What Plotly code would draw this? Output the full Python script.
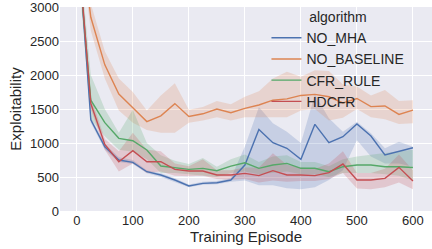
import plotly.graph_objects as go

episodes = [0, 25, 50, 75, 100, 125, 150, 175, 200, 225, 250, 275, 300,
            325, 350, 375, 400, 425, 450, 475, 500, 525, 550, 575, 600]

no_mha = [4200, 1340, 945, 750, 716, 578, 529, 456, 368, 407, 416, 456, 676,
          1200, 1005, 922, 760, 1275, 1005, 1093, 1280, 1103, 824, 872, 931]
no_mha_lo = [4000, 1300, 900, 720, 690, 555, 500, 430, 350, 385, 395, 430, 450,
             380, 380, 335, 320, 350, 456, 600, 1040, 800, 700, 700, 650]
no_mha_hi = [4400, 1380, 990, 790, 750, 600, 555, 480, 390, 430, 440, 480, 950,
             1530, 1290, 1166, 1000, 1715, 1363, 1166, 1313, 1142, 922, 1020, 946]

no_baseline = [4500, 2850, 2150, 1720, 1520, 1315, 1400, 1580, 1390, 1430, 1500, 1446, 1510,
               1560, 1630, 1650, 1700, 1715, 1680, 1590, 1655, 1535, 1545, 1420, 1485]
no_baseline_lo = [4300, 2650, 1950, 1480, 1300, 1190, 1150, 1150, 1300, 1330, 1380, 1330, 1380,
                  1380, 1370, 1380, 1480, 1500, 1330, 1370, 1500, 1380, 1350, 1280, 1290]
no_baseline_hi = [4700, 3050, 2350, 1950, 1750, 1480, 1700, 1880, 1490, 1530, 1620, 1570, 1680,
                  1760, 1950, 2050, 1975, 2070, 2060, 1860, 1830, 1700, 1780, 1620, 1630]

cfr_rule = [4000, 1630, 1300, 1069, 1034, 897, 662, 642, 613, 627, 593, 660, 710,
            628, 676, 701, 628, 628, 578, 652, 676, 676, 652, 652, 640]
cfr_rule_lo = [3800, 1350, 1100, 900, 870, 760, 560, 560, 540, 520, 500, 560, 580,
               540, 560, 580, 540, 540, 500, 560, 560, 560, 540, 520, 450]
cfr_rule_hi = [4200, 2000, 1500, 1150, 1490, 1000, 820, 740, 690, 780, 650, 760, 830,
               720, 800, 820, 720, 720, 660, 760, 800, 830, 850, 880, 900]

hdcfr = [4100, 1580, 980, 725, 887, 725, 725, 613, 588, 588, 529, 529, 554,
         520, 593, 529, 529, 520, 564, 691, 456, 456, 480, 642, 441]
hdcfr_lo = [3900, 1500, 900, 580, 700, 560, 580, 520, 510, 520, 470, 460, 470,
            420, 450, 430, 440, 440, 470, 560, 330, 320, 350, 420, 320]
hdcfr_hi = [4300, 1680, 1060, 880, 1150, 900, 880, 700, 660, 760, 600, 600, 640,
            640, 850, 680, 640, 620, 700, 880, 560, 560, 620, 830, 600]

names = ["NO_MHA", "NO_BASELINE", "CFR_RULE", "HDCFR"]
colors = ["#4C72B0", "#DD8452", "#55A868", "#C44E52"]
fills = ["rgba(76,114,176,0.22)", "rgba(221,132,82,0.22)",
         "rgba(85,168,104,0.22)", "rgba(196,78,82,0.22)"]
series = [(no_mha, no_mha_lo, no_mha_hi), (no_baseline, no_baseline_lo, no_baseline_hi),
          (cfr_rule, cfr_rule_lo, cfr_rule_hi), (hdcfr, hdcfr_lo, hdcfr_hi)]

fig = go.Figure()
for (mean, lo, hi), name, c, f in zip(series, names, colors, fills):
    fig.add_trace(go.Scatter(x=episodes, y=hi, mode="lines", line=dict(width=0),
                             showlegend=False, hoverinfo="skip"))
    fig.add_trace(go.Scatter(x=episodes, y=lo, mode="lines", line=dict(width=0),
                             fill="tonexty", fillcolor=f, showlegend=False, hoverinfo="skip"))
for (mean, lo, hi), name, c in zip(series, names, colors):
    fig.add_trace(go.Scatter(x=episodes, y=mean, mode="lines", name=name,
                             line=dict(color=c, width=1.4)))

fig.update_layout(
    width=432, height=249,
    margin=dict(l=60, r=0, t=7, b=38, autoexpand=False),
    paper_bgcolor="white", plot_bgcolor="#EAEAF2",
    font=dict(family="Liberation Sans, Arial, sans-serif", color="#262626", size=13),
    xaxis=dict(range=[-30, 634], tickvals=[0, 100, 200, 300, 400, 500, 600],
               gridcolor="white", gridwidth=1, zeroline=False, showline=False,
               ticks="", tickfont=dict(size=13), automargin=False,
               ticklabeloverflow="allow",
               title=dict(text="Training Episode", font=dict(size=15), standoff=2)),
    yaxis=dict(range=[0, 3001], tickvals=[0, 500, 1000, 1500, 2000, 2500, 3000],
               gridcolor="white", gridwidth=1, zeroline=False, showline=False,
               ticks="", tickfont=dict(size=13), automargin=False,
               ticklabeloverflow="allow",
               title=dict(text="Exploitability", font=dict(size=15), standoff=4)),
    legend=dict(x=0.555, y=1.015, xanchor="left", yanchor="top",
                bgcolor="rgba(0,0,0,0)", borderwidth=0, traceorder="normal",
                font=dict(size=14), itemwidth=30,
                title=dict(text="algorithm", side="top center", font=dict(size=14))),
)

fig.write_html("out.html", post_script="document.body.style.margin='0px';",
               config={"displayModeBar": False})
